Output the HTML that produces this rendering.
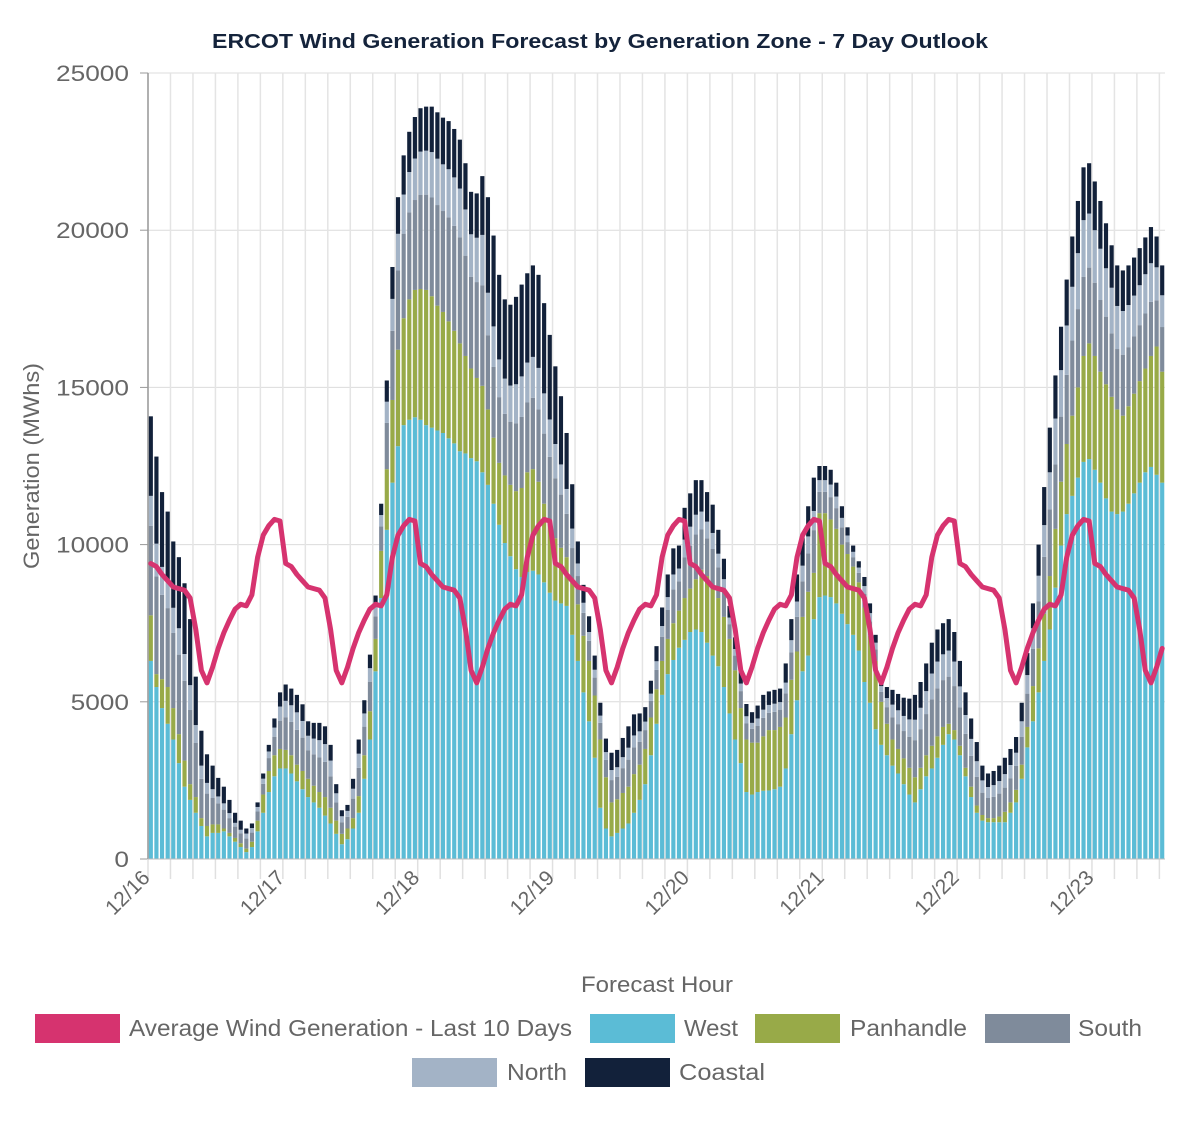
<!DOCTYPE html>
<html><head><meta charset="utf-8"><style>
html,body{margin:0;padding:0;background:#fff;}
body{width:1200px;height:1128px;overflow:hidden;font-family:"Liberation Sans",sans-serif;}
svg text{font-family:"Liberation Sans",sans-serif;}
</style></head><body>
<svg id="chart" width="1200" height="1128" viewBox="0 0 1200 1128" xmlns="http://www.w3.org/2000/svg">
<text x="600" y="48" text-anchor="middle" font-size="20" font-weight="bold" fill="#14233b" textLength="776" lengthAdjust="spacingAndGlyphs">ERCOT Wind Generation Forecast by Generation Zone - 7 Day Outlook</text>
<g id="grid"></g>
<g id="bars"></g>
<g id="axes"></g>
<text transform="translate(39,466) rotate(-90)" text-anchor="middle" font-size="22" fill="#666" textLength="206" lengthAdjust="spacingAndGlyphs">Generation (MWhs)</text>
<text x="657" y="992" text-anchor="middle" font-size="22" fill="#666" textLength="152" lengthAdjust="spacingAndGlyphs">Forecast Hour</text>
<g font-size="23" fill="#666">
<g><rect x="35" y="1014" width="85" height="29" fill="#d6336f"/><text x="129" y="1036" fill="#666" textLength="443" lengthAdjust="spacingAndGlyphs">Average Wind Generation - Last 10 Days</text></g>
<g><rect x="590" y="1014" width="85" height="29" fill="#5bbcd6"/><text x="684" y="1036" fill="#666" textLength="54" lengthAdjust="spacingAndGlyphs">West</text></g>
<g><rect x="755" y="1014" width="85" height="29" fill="#98aa48"/><text x="850" y="1036" fill="#666" textLength="117" lengthAdjust="spacingAndGlyphs">Panhandle</text></g>
<g><rect x="985" y="1014" width="85" height="29" fill="#7f8b9b"/><text x="1078" y="1036" fill="#666" textLength="64" lengthAdjust="spacingAndGlyphs">South</text></g>
<g><rect x="412" y="1058" width="85" height="29" fill="#a3b3c6"/><text x="507" y="1080" fill="#666" textLength="60" lengthAdjust="spacingAndGlyphs">North</text></g>
<g><rect x="585" y="1058" width="85" height="29" fill="#12213a"/><text x="679" y="1080" fill="#666" textLength="86" lengthAdjust="spacingAndGlyphs">Coastal</text></g>
</g>
</svg>
<script>
const dayLabels = ["12/16","12/17","12/18","12/19","12/20","12/21","12/22","12/23"];
const yTicks = [0,5000,10000,15000,20000,25000];
const avgDaily = [9400,9300,9050,8850,8650,8600,8550,8300,7300,6000,5600,6100,6700,7200,7600,7950,8100,8050,8400,9600,10300,10600,10800,10750];
const west = [6300,5470,4800,4300,3800,3050,2300,1880,1470,1050,720,830,830,880,720,550,380,220,380,880,1470,2130,2630,2880,2880,2720,2470,2220,1970,1800,1630,1380,1130,800,470,630,970,1470,2550,3800,5970,8300,10470,11970,13130,13800,13970,14050,13970,13800,13720,13630,13550,13380,13220,12970,12900,12750,12650,12300,11900,11300,10630,10050,9630,9220,8970,9130,9170,9050,8800,8470,8220,8130,8050,7130,6300,5300,4380,3220,1630,970,720,830,970,1130,1470,1880,2380,3300,4300,5220,5880,6330,6720,6970,7220,7300,7220,6880,6470,6130,5470,4630,3800,3050,2130,2050,2130,2170,2180,2220,2300,2880,3970,5050,5970,6470,7630,8330,8380,8330,8130,7800,7470,7130,6630,5630,4970,4130,3630,3300,2970,2720,2380,2050,1800,2220,2630,2880,3220,3630,3970,3800,3300,2630,1970,1470,1220,1170,1170,1170,1170,1470,1800,2550,3550,4380,5300,6300,7300,8630,9970,10970,11550,12130,12630,12720,12380,11970,11470,11050,10970,11050,11300,11630,11970,12300,12470,12220,11970];
const panhandle = [1450,410,920,1170,1000,920,830,500,500,250,330,270,270,90,110,120,120,110,170,340,580,670,670,620,590,580,530,580,580,530,500,590,500,420,330,340,330,530,750,900,1030,1500,1930,2630,3070,3400,3830,4050,4160,4300,4180,3970,3850,3720,3580,3430,3100,2850,2650,2750,2400,2100,1970,2150,2270,2480,2830,3170,3230,2950,2500,2230,1980,1770,1550,1670,1800,1800,1920,1980,2170,1630,1080,1070,1130,1170,1230,1120,1120,1200,1100,1080,1120,1170,1180,1330,1380,1600,1980,2120,2230,2170,2230,2370,2200,1750,1670,1650,1570,1730,1920,1880,1900,1620,1730,1550,1730,2030,1470,2670,2620,2470,2370,2200,2230,2170,2170,2370,2130,2170,1370,1000,830,780,820,850,800,680,670,720,680,570,330,300,300,270,330,230,180,130,130,180,330,330,400,450,650,1120,1400,1500,1700,1870,2030,2230,2550,2870,3370,3680,3620,3530,3630,3650,3330,3050,3100,3170,3230,3300,3530,4080,3530];
const south = [2850,3110,2680,2510,2390,2530,2540,2360,1720,1250,1030,840,670,600,470,360,320,320,290,290,340,410,590,900,1040,1060,1110,1060,910,1000,1100,1120,1000,580,370,370,620,900,910,940,720,780,1470,2200,2520,2690,2770,2860,2990,3030,3140,3200,3210,3310,3340,3370,3190,2920,3050,3200,2360,2250,2090,1960,2010,2160,2260,2220,2270,2300,2230,2090,1910,1690,1380,1090,900,730,640,570,530,550,710,710,790,860,850,730,600,530,620,770,920,1070,930,1290,1360,1420,1280,1200,1160,980,830,470,470,540,510,440,530,590,550,580,550,770,870,1100,1130,1220,1360,680,680,710,660,550,380,300,300,440,460,370,320,530,710,790,870,990,1180,1230,1310,1480,1530,1490,1500,1400,1220,1080,980,910,710,640,680,730,770,770,760,890,1060,1180,1490,1810,2120,2050,2070,2200,2390,2490,2520,2410,2330,2280,2150,2020,1920,1940,1880,1820,1780,1750,1720,1470,1420];
const north = [950,1040,890,840,800,840,850,790,570,420,340,280,220,200,160,120,110,160,145,145,165,210,290,450,520,530,555,530,460,500,550,565,500,290,190,190,315,450,420,430,330,360,675,1015,1165,1245,1280,1320,1380,1400,1445,1475,1485,1530,1540,1555,1470,1350,1410,1600,1350,1290,1200,1120,1150,1240,1290,1270,1300,1320,1280,1190,1090,960,790,620,400,320,280,250,230,250,320,310,350,380,380,330,270,230,270,340,410,480,410,570,610,630,570,530,510,430,370,210,210,240,230,190,240,260,250,260,240,340,390,490,500,540,610,370,370,400,370,300,210,170,170,240,260,210,180,290,400,440,480,550,650,680,730,820,850,820,830,780,670,600,540,500,390,350,370,400,430,420,420,490,590,660,820,1010,1180,1460,1480,1570,1710,1780,1800,1720,1670,1630,1540,1450,1370,1390,1340,1300,1270,1250,1230,1050,1010];
const coastal = [2530,2770,2380,2230,2110,2260,2250,2100,1540,1110,910,750,590,530,420,320,290,160,145,145,165,210,290,450,520,530,555,530,460,500,550,565,500,290,190,190,315,450,420,430,330,360,675,1015,1165,1245,1280,1320,1380,1400,1445,1475,1485,1530,1540,1555,1470,1350,1410,1870,3040,2890,2690,2520,2570,2780,2920,2840,2910,2960,2870,2690,2470,2170,1780,1410,700,570,500,450,410,430,550,550,610,680,670,570,460,410,480,590,720,830,730,1010,1060,1100,1000,940,900,760,650,370,370,420,390,340,410,470,430,440,430,610,670,860,890,960,1060,450,450,470,440,370,260,200,200,290,310,250,220,350,470,520,580,660,790,820,880,980,1020,990,1000,940,810,720,650,610,470,430,450,490,520,510,500,590,700,790,990,1210,1420,1370,1380,1460,1600,1660,1680,1600,1550,1520,1430,1350,1290,1290,1260,1210,1180,1170,1150,980,950];

const NS = "http://www.w3.org/2000/svg";
const X0 = 148, X1 = 1165, Y0 = 859, Y1 = 73, YMAX = 25000;
const N = west.length;
const pitch = (X1 - X0) / N;
function xScale(i){ return X0 + i * pitch; }
function yScale(v){ return Y0 - (v / YMAX) * (Y0 - Y1); }
function mk(tag, attrs, parent){ const e = document.createElementNS(NS, tag); for (const k in attrs) e.setAttribute(k, attrs[k]); parent.appendChild(e); return e; }

const grid = document.getElementById("grid");
const axes = document.getElementById("axes");
const bars = document.getElementById("bars");

yTicks.forEach(function(t){
  const y = yScale(t);
  const gl = mk("line", {x1:X0, x2:X1, y1:y, y2:y, stroke:"#dcdcdc", "stroke-width":1}, grid);
  
  
  const tk = mk("line", {x1:X0-8, x2:X0, y1:y, y2:y, stroke:"#999", "stroke-width":1}, axes);
  
  
  const s = String(t);
  const lb = mk("text", {x:X0-19, y:y+8, "text-anchor":"end", "font-size":"22", fill:"#666", textLength:(s.length*14.6).toFixed(1), lengthAdjust:"spacingAndGlyphs"}, axes);
  lb.textContent = s;
  
  
});
for (let h = 0; h <= N; h += 4) {
  const x = xScale(h);
  const vl = mk("line", {x1:x, x2:x, y1:Y1, y2:Y0, stroke:"#e4e4e4", "stroke-width":1.5}, grid);
  
  
  const tk = mk("line", {x1:x, x2:x, y1:Y0, y2:Y0+20, stroke:"#e0e0e0", "stroke-width":1.5}, axes);
  
  
}
dayLabels.forEach(function(d, k){
  const x = xScale(k * 24) + 3;
  const t = mk("text", {x:0, y:0, "text-anchor":"end", "font-size":"21", fill:"#666", transform:"translate(" + x + "," + (Y0 + 20) + ") rotate(-45)"}, axes);
  t.textContent = d;
  
  
});

const seriesList = [west, panhandle, south, north, coastal];
const seriesNames = ["west", "panhandle", "south", "north", "coastal"];
const colors = ["#5bbcd6", "#98aa48", "#7f8b9b", "#a3b3c6", "#12213a"];
const bw = pitch * 0.74;
for (let i = 0; i < N; i++) {
  let base = 0;
  for (let s = 0; s < seriesList.length; s++) {
    const v = seriesList[s][i];
    const yTop = yScale(base + v), yBot = yScale(base);
    const r = mk("rect", {x:xScale(i) + (pitch - bw) / 2, y:yTop, width:bw, height:Math.max(0, yBot - yTop), fill:colors[s]}, bars);
    
    
    base += v;
  }
}

const ax = mk("line", {x1:X0, x2:X0, y1:Y1, y2:Y0, stroke:"#9a9a9a", "stroke-width":1.5}, axes);


const bl = mk("line", {x1:X0, x2:X1, y1:Y0, y2:Y0, stroke:"#bdbdbd", "stroke-width":1}, axes);



let pts = [];
for (let i = 0; i < N; i++) {
  pts.push((xScale(i) + pitch / 2).toFixed(1) + "," + yScale(avgDaily[i % 24]).toFixed(1));
}
const line = mk("polyline", {points:pts.join(" "), fill:"none", stroke:"#d6336f", "stroke-width":5, "stroke-linejoin":"round", "stroke-linecap":"round"}, document.getElementById("chart"));


</script>
</body></html>
